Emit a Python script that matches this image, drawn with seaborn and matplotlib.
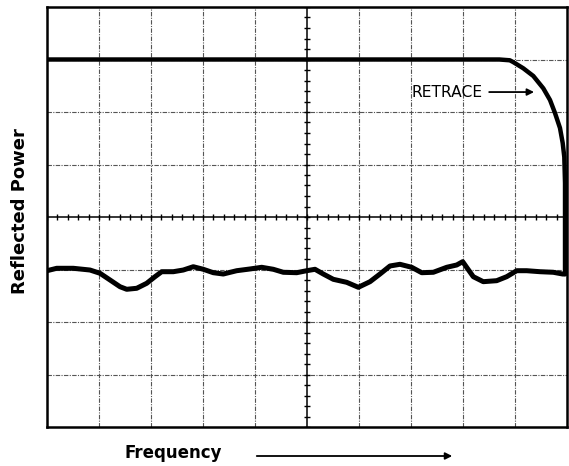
import numpy as np
import pandas as pd
import matplotlib
matplotlib.use("Agg")
import matplotlib.pyplot as plt
import seaborn as sns

# Upper trace (flat level then retrace down to lower level), in grid divisions
upper_x = [0.00, 2.00, 4.00, 6.00, 8.00, 8.70, 8.90, 8.967, 9.160, 9.352, 9.544, 9.673,
           9.769, 9.865, 9.917, 9.948, 9.962, 9.962]
upper_y = [7.00, 7.00, 7.00, 7.00, 7.00, 7.00, 6.985, 6.950, 6.832, 6.686, 6.451, 6.229,
           5.981, 5.695, 5.410, 5.143, 4.648, 2.914]

# Lower trace (reflected power ripple)
lower_x = [0.000, 0.187, 0.506, 0.827, 1.019, 1.212, 1.404, 1.533, 1.725, 1.917, 2.077,
           2.206, 2.429, 2.621, 2.813, 3.006, 3.198, 3.390, 3.648, 3.904, 4.129, 4.352,
           4.544, 4.802, 4.994, 5.154, 5.313, 5.506, 5.763, 5.987, 6.212, 6.404, 6.596,
           6.788, 7.013, 7.206, 7.429, 7.687, 7.879, 7.994, 8.083, 8.198, 8.390, 8.648,
           8.840, 9.033, 9.225, 9.481, 9.737, 9.917, 9.962]
lower_y = [2.977, 3.023, 3.023, 2.990, 2.928, 2.800, 2.672, 2.623, 2.642, 2.737, 2.863,
           2.958, 2.958, 2.990, 3.053, 3.004, 2.939, 2.914, 2.977, 3.010, 3.042, 3.004,
           2.947, 2.939, 2.977, 3.004, 2.914, 2.813, 2.756, 2.661, 2.768, 2.914, 3.067,
           3.099, 3.042, 2.939, 2.947, 3.042, 3.086, 3.149, 3.023, 2.863, 2.768, 2.787,
           2.863, 2.977, 2.977, 2.958, 2.947, 2.914, 2.914]

n_cols, n_rows = 10, 8
x_label = "Frequency"
y_label = "Reflected Power"
annotation = "RETRACE"

sns.set_theme(style="white")
plt.rcParams['font.family'] = ['DejaVu Sans']

fig = plt.figure(figsize=(5.69, 4.66), dpi=100)
ax = fig.add_axes([47/569, 1-427/466, 520/569, 420/466])

# grid
grid_ls = (0, (4, 1.2, 1, 1.2))
for gx in range(1, n_cols):
    if gx == n_cols // 2:
        continue
    ax.axvline(gx, color="#555555", lw=0.8, ls=grid_ls, zorder=1)
for gy in range(1, n_rows):
    if gy == n_rows // 2:
        continue
    ax.axhline(gy, color="#555555", lw=0.8, ls=grid_ls, zorder=1)

# center graticule with minor ticks
ax.axvline(n_cols / 2, color="black", lw=1.1, zorder=2)
ax.axhline(n_rows / 2, color="black", lw=1.1, zorder=2)
ty = np.arange(0, n_rows + 0.01, 0.2)
tx = np.arange(0, n_cols + 0.01, 0.2)
ax.plot(np.full_like(ty, n_cols / 2), ty, ls="none", marker="_", ms=4.5, mew=1.0, color="black", zorder=2)
ax.plot(tx, np.full_like(tx, n_rows / 2), ls="none", marker="|", ms=4.5, mew=1.0, color="black", zorder=2)

upper = pd.DataFrame({"x": upper_x, "y": upper_y})
lower = pd.DataFrame({"x": lower_x, "y": lower_y})
sns.lineplot(data=upper, x="x", y="y", sort=False, estimator=None, color="black", lw=3.2,
             ax=ax, zorder=3, solid_joinstyle="round", solid_capstyle="round")
sns.lineplot(data=lower, x="x", y="y", sort=False, estimator=None, color="black", lw=3.6,
             ax=ax, zorder=3, solid_joinstyle="round", solid_capstyle="round")

ax.set_xlim(0, n_cols)
ax.set_ylim(0, n_rows)
ax.set_xticks([])
ax.set_yticks([])
ax.set_xlabel("")
ax.set_ylabel("")
for s in ax.spines.values():
    s.set_visible(True)
    s.set_color("black")
    s.set_linewidth(1.8)

# RETRACE annotation
ax.annotate("", xy=(9.42, 6.38), xytext=(8.45, 6.38),
            arrowprops=dict(arrowstyle="-|>", color="black", lw=1.3, mutation_scale=10))
ax.text(8.38, 6.38, annotation, ha="right", va="center", fontsize=11.2,
        fontweight="medium", color="black")

# axis labels
fig.text(20/569, 1-211/466, y_label, rotation=90, ha="center", va="center",
         fontsize=13, fontweight="bold", color="black")
fig.text(173/569, 1-453/466, x_label, ha="center", va="center",
         fontsize=12, fontweight="bold", color="black")
fig.add_artist(matplotlib.patches.FancyArrowPatch((254/569, 1-456/466), (455/569, 1-456/466),
               transform=fig.transFigure, arrowstyle="-|>", mutation_scale=10,
               color="black", lw=1.3))

fig.savefig("out.png", dpi=100, facecolor="white")
